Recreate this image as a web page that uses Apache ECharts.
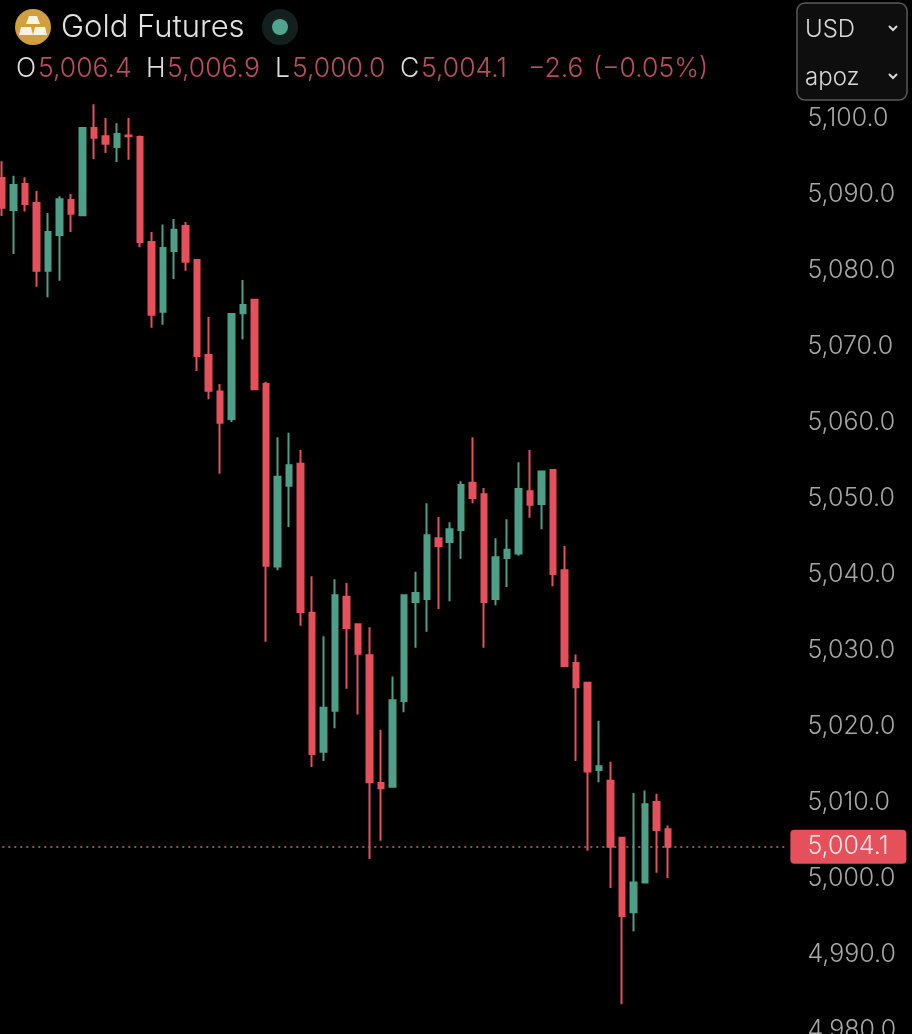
<!DOCTYPE html>
<html>
<head>
<meta charset="utf-8">
<title>Gold Futures</title>
<script src="https://cdn.jsdelivr.net/npm/echarts@6/dist/echarts.min.js"></script>
<style>
  html, body { margin: 0; padding: 0; background: #000; }
  #chart { width: 912px; height: 1034px; }
</style>
</head>
<body>
<div id="chart"></div>
<script>
const opens = [
  5092.1, 5087.9, 5091.3, 5088.8, 5079.9, 5084.6, 5089.2, 5087.2, 5098.7, 5097.6,
  5096.2, 5097.7, 5097.5, 5083.7, 5074.5, 5082.5, 5085.8, 5081.3, 5068.8, 5064.0,
  5060.4, 5074.3, 5076.1, 5065.0, 5041.0, 5051.6, 5054.5, 5034.9, 5016.6, 5022.0,
  5037.0, 5033.4, 5029.3, 5012.5, 5012.0, 5023.3, 5036.3, 5036.7, 5044.7, 5044.2,
  5045.8, 5052.0, 5050.5, 5036.7, 5042.1, 5042.7, 5050.9, 5049.2, 5053.7, 5040.5,
  5028.3, 5025.7, 5014.2, 5012.8, 5005.3, 4995.5, 4999.4, 5010.0, 5006.4
]
const closes = [
  5088.2, 5091.2, 5088.7, 5079.9, 5085.0, 5089.3, 5087.4, 5098.7, 5097.4, 5096.6,
  5097.9, 5097.6, 5083.7, 5074.1, 5082.9, 5085.3, 5081.1, 5068.7, 5064.1, 5059.9,
  5074.2, 5075.4, 5064.3, 5041.1, 5052.8, 5054.3, 5035.0, 5016.3, 5022.4, 5037.2,
  5032.9, 5029.5, 5012.6, 5011.8, 5023.4, 5037.2, 5037.5, 5045.1, 5043.7, 5045.9,
  5051.7, 5050.0, 5036.3, 5042.2, 5043.2, 5051.2, 5049.1, 5053.5, 5040.0, 5027.9,
  5025.1, 5014.0, 5014.7, 5004.1, 4995.0, 4999.4, 5009.7, 5006.3, 5004.1
]
const lows = [
  5087.1, 5082.1, 5087.7, 5077.8, 5076.4, 5078.6, 5085.0, 5087.1, 5094.6, 5095.4,
  5094.2, 5094.5, 5083.0, 5072.4, 5072.8, 5078.8, 5079.9, 5066.7, 5063.0, 5053.2,
  5060.0, 5070.9, 5064.2, 5031.1, 5040.5, 5046.2, 5033.2, 5014.6, 5015.4, 5019.7,
  5024.9, 5021.5, 5002.5, 5004.9, 5012.0, 5021.8, 5030.3, 5032.4, 5035.4, 5036.4,
  5042.0, 5049.3, 5030.3, 5035.9, 5038.3, 5042.4, 5047.4, 5045.9, 5038.4, 5027.9,
  5015.4, 5003.6, 5012.6, 4998.7, 4983.4, 4993.0, 4999.4, 5000.7, 5000.0
]
const highs = [
  5094.3, 5092.4, 5092.2, 5090.4, 5087.5, 5089.7, 5090.0, 5098.7, 5101.8, 5100.0,
  5099.3, 5100.0, 5097.7, 5085.0, 5086.0, 5086.7, 5086.3, 5081.3, 5073.8, 5065.0,
  5074.2, 5078.7, 5076.2, 5065.3, 5058.0, 5058.6, 5056.3, 5039.7, 5031.8, 5039.3,
  5038.8, 5033.4, 5033.0, 5019.5, 5026.5, 5037.2, 5040.3, 5049.3, 5047.5, 5046.8,
  5052.2, 5058.0, 5051.3, 5044.7, 5047.2, 5054.7, 5056.3, 5053.5, 5053.7, 5043.7,
  5029.4, 5025.7, 5020.7, 5015.3, 5005.3, 5011.2, 5011.5, 5011.1, 5006.9
]
const lastPrice = 5004.1

const RED = '#e5505a'
const GREEN = '#4f9f88'
const FONT = 'Inter, "Noto Sans", sans-serif'

// empty slots on the right so the candles stop short of the price scale
const slots = Array.from({ length: opens.length + 10 }, (_, i) => String(i))
const candles = opens.map((o, i) => [o, closes[i], lows[i], highs[i]])

function formatPrice(value) {
  return value.toLocaleString('en-US', { minimumFractionDigits: 1, maximumFractionDigits: 1 })
}

function label(x, y, text, color, size = 26.5) {
  return {
    type: 'text',
    x,
    y,
    style: { text, fill: color, font: `300 ${size}px ${FONT}`, textVerticalAlign: 'middle' }
  }
}

function chevron(x, y) {
  return {
    type: 'polyline',
    shape: { points: [[x - 4, y - 2], [x, y + 2], [x + 4, y - 2]] },
    style: { stroke: '#d8d8d8', lineWidth: 2, fill: null }
  }
}

const headerRed = '#b94f5c'
const headerWhite = '#dcdcdc'

const chart = echarts.init(document.getElementById('chart'))
chart.setOption({
  backgroundColor: '#000',
  animation: false,
  grid: { left: -3.7, right: 123.6, top: 42, bottom: 4, outerBoundsMode: 'none' },
  xAxis: {
    type: 'category',
    data: slots,
    show: false
  },
  yAxis: {
    type: 'value',
    position: 'right',
    min: 4980,
    max: 5110,
    interval: 10,
    splitLine: { show: false },
    axisLine: { show: false },
    axisTick: { show: false },
    axisLabel: {
      showMaxLabel: false,
      margin: 19,
      color: '#a6a6a6',
      fontFamily: FONT,
      fontWeight: 300,
      fontSize: 25,
      formatter: formatPrice
    }
  },
  series: [
    {
      type: 'candlestick',
      data: candles,
      barWidth: 6,
      itemStyle: {
        color: GREEN,
        color0: RED,
        borderColor: GREEN,
        borderColor0: RED,
        borderWidth: 2
      },
      markLine: {
        silent: true,
        symbol: 'none',
        lineStyle: { color: '#c96a62', type: [2, 4], width: 1.5, opacity: 1 },
        label: {
          position: 'end',
          distance: 2,
          formatter: formatPrice(lastPrice),
          color: '#f5e6e6',
          fontFamily: FONT,
          fontWeight: 300,
          fontSize: 25,
          backgroundColor: RED,
          borderRadius: 4,
          width: 99,
          height: 34,
          lineHeight: 34,
          padding: [0, 0, 0, 17]
        },
        data: [{ yAxis: lastPrice }]
      }
    }
  ],
  graphic: [
    // gold icon
    { type: 'circle', shape: { cx: 33, cy: 27, r: 18 }, style: { fill: '#d19f3f' } },
    { type: 'polygon', shape: { points: [[29, 16], [37, 16], [40, 24], [26, 24]] }, style: { fill: '#fbf3e2' } },
    { type: 'polygon', shape: { points: [[21, 27], [31, 27], [33, 35], [19, 35]] }, style: { fill: '#fbf3e2' } },
    { type: 'polygon', shape: { points: [[35, 27], [45, 27], [47, 35], [33, 35]] }, style: { fill: '#fbf3e2' } },
    label(61, 28, 'Gold Futures', '#e2e2e2', 31),
    // status dot
    { type: 'circle', shape: { cx: 280, cy: 27, r: 18 }, style: { fill: '#12211d' } },
    { type: 'circle', shape: { cx: 280, cy: 27, r: 8 }, style: { fill: '#4fa58d' } },
    // OHLC row
    label(16, 69, 'O', headerWhite),
    label(38, 69, '5,006.4', headerRed),
    label(146, 69, 'H', headerWhite),
    label(167, 69, '5,006.9', headerRed),
    label(275, 69, 'L', headerWhite),
    label(292, 69, '5,000.0', headerRed),
    label(400, 69, 'C', headerWhite),
    label(421, 69, '5,004.1', headerRed),
    label(528, 69, '\u22122.6', headerRed),
    label(593, 69, '(\u22120.05%)', headerRed),
    // currency and unit box
    {
      type: 'rect',
      shape: { x: 797, y: 3, width: 110, height: 97, r: 8 },
      style: { fill: '#0e0e0e', stroke: '#5a5a5a', lineWidth: 1.5 }
    },
    label(805, 30, 'USD', '#d8d8d8', 24),
    label(805, 78, 'apoz', '#d8d8d8', 24),
    chevron(893, 28),
    chevron(893, 76)
  ]
})
</script>
</body>
</html>
